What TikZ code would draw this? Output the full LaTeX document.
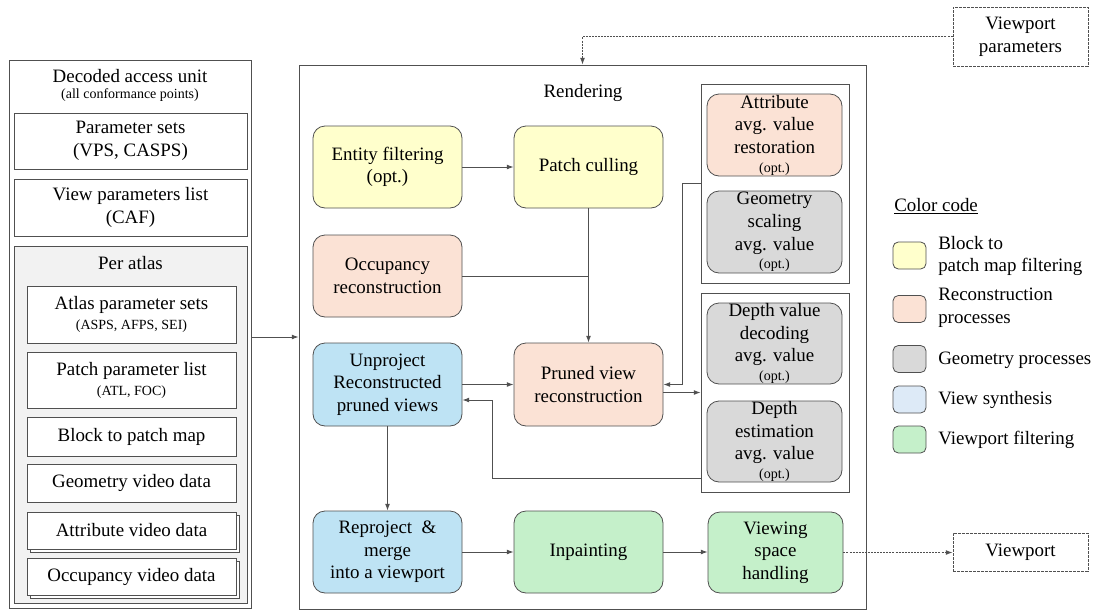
\documentclass[tikz,border=0pt]{standalone}
\usepackage{fontspec}
\setmainfont{Liberation Serif}
\usetikzlibrary{arrows.meta,shadows}

\definecolor{cyel}{HTML}{FFFFCC}
\definecolor{csal}{HTML}{FBE2D5}
\definecolor{cgry}{HTML}{D9D9D9}
\definecolor{cblu}{HTML}{BEE3F4}
\definecolor{cblulight}{HTML}{DDEAF7}
\definecolor{cgrn}{HTML}{C5F0CA}
\definecolor{cpanel}{HTML}{F2F2F2}
\definecolor{cline}{HTML}{505050}

\newcommand{\bigtxt}{\fontsize{14.2}{17}\selectfont}
\newcommand{\smalltxt}{\fontsize{10.5}{12}\selectfont}

\tikzset{
  sz/.style 2 args={minimum width=#1*0.75pt, minimum height=#2*0.75pt},
  plainbox/.style={draw=cline, line width=0.6pt, fill=white, inner sep=0pt, align=center, font=\bigtxt},
  proc/.style={draw=cline, line width=0.6pt, rounded corners=9pt, inner sep=0pt, align=center, font=\bigtxt},
  grp/.style={draw=cline, line width=0.6pt, inner sep=0pt},
  swatch/.style={draw=cline, line width=0.6pt, rounded corners=4pt, sz={33}{27}},
  legtxt/.style={anchor=west, align=left, inner sep=0pt, font=\bigtxt},
  conn/.style={draw=cline, line width=0.7pt},
  arr/.style={conn, -{Latex[length=5pt,width=3.6pt]}},
  dsh/.style={dash pattern=on 1.5pt off 0.8pt},
  fine dash/.style={dash pattern=on 2.5pt off 0.5pt},
  stack/.style={copy shadow={shadow xshift=2.25pt, shadow yshift=-2.25pt, draw=cline, fill=white}},
}

\begin{document}
\begin{tikzpicture}[x=0.75pt, y=-0.75pt]
\useasboundingbox (0,0) rectangle (1101,611);

% ---------- decoded access unit ----------
\node[plainbox, sz={242}{548}] (dau) at (130,334) {};
\node[font=\bigtxt, inner sep=0pt] (dautitle) at (130,76) {Decoded access unit};
\node[font=\smalltxt, inner sep=0pt] (dausub) at (130,95) {(all conformance points)};
\node[plainbox, sz={233}{56}] (ps) at (130.5,141) {Parameter sets\\(VPS, CASPS)};
\node[plainbox, sz={233}{57}] (vpl) at (130.5,207.5) {View parameters list\\(CAF)};
\node[plainbox, fill=cpanel, sz={233}{357}] (atlas) at (130.5,424.5) {};
\node[font=\bigtxt, inner sep=0pt] (atlastitle) at (130.5,263) {Per atlas};
\node[plainbox, sz={209}{57}] (aps) at (131.5,314.5) {Atlas parameter sets\\[-2pt]{\smalltxt (ASPS, AFPS, SEI)}};
\node[plainbox, sz={209}{56}] (ppl) at (131.5,380) {Patch parameter list\\[-2pt]{\smalltxt (ATL, FOC)}};
\node[plainbox, sz={209}{39}] (b2p) at (131.5,436.5) {Block to patch map};
\node[plainbox, sz={209}{38}] (gvd) at (131.5,483) {Geometry video data};
\node[plainbox, stack, sz={209}{37}] (avd) at (131.5,530.5) {Attribute video data};
\node[plainbox, stack, sz={209}{37}] (ovd) at (131.5,576.5) {Occupancy video data};

% ---------- rendering ----------
\node[plainbox, sz={567}{544}] (rend) at (582.5,337) {};
\node[font=\bigtxt, inner sep=0pt] (rendtitle) at (583,93) {Rendering};

\node[proc, fill=cyel, sz={149}{82}] (ent) at (387.5,167) {Entity filtering\\(opt.)};
\node[proc, fill=cyel, sz={149}{82}] (pc) at (588.5,167) {Patch culling};
\node[proc, fill=csal, sz={149}{82}] (occ) at (387.5,276) {Occupancy\\reconstruction};
\node[proc, fill=cblu, sz={149}{83}] (up) at (387.5,384.5) {Unproject\\Reconstructed\\pruned views};
\node[proc, fill=csal, sz={149}{83}] (pv) at (588.5,384.5) {Pruned view\\reconstruction};
\node[proc, fill=cblu, sz={149}{82}] (rp) at (387.5,552) {Reproject~~\&\\merge\\into a viewport};
\node[proc, fill=cgrn, sz={149}{82}] (inp) at (588.5,552) {Inpainting};
\node[proc, fill=cgrn, sz={135}{81}] (vs) at (775.5,552.5) {Viewing\\space\\handling};

\node[grp, sz={148}{199}] (g1) at (775,183.5) {};
\node[grp, sz={148}{199}] (g2) at (775,392.5) {};
\node[proc, fill=csal, sz={135}{82}] (avr) at (774.5,135) {Attribute\\avg. value\\restoration\\[-3pt]{\smalltxt (opt.)}};
\node[proc, fill=cgry, sz={135}{82}] (gsc) at (774.5,232) {Geometry\\scaling\\avg. value\\[-3pt]{\smalltxt (opt.)}};
\node[proc, fill=cgry, sz={135}{81}] (dvd) at (774.5,343.5) {Depth value\\decoding\\avg. value\\[-3pt]{\smalltxt (opt.)}};
\node[proc, fill=cgry, sz={135}{81}] (dest) at (774.5,441.5) {Depth\\estimation\\avg. value\\[-3pt]{\smalltxt (opt.)}};

% ---------- external inputs / outputs ----------
\node[plainbox, fine dash, sz={135}{59}] (vpp) at (1020.5,36.5) {Viewport\\parameters};
\node[plainbox, fine dash, sz={135}{38}] (vp) at (1020.5,552) {Viewport};

% ---------- legend ----------
\node[legtxt] (cctitle) at (894,206) {\underline{Color code}};
\node[swatch, fill=cyel] (sw1) at (909.5,255.5) {};
\node[swatch, fill=csal] (sw2) at (909.5,309) {};
\node[swatch, fill=cgry] (sw3) at (909.5,359) {};
\node[swatch, fill=cblulight] (sw4) at (909.5,399.5) {};
\node[swatch, fill=cgrn] (sw5) at (909.5,439.5) {};
\node[legtxt] (lg1) at (938,256) {Block to\\patch map filtering};
\node[legtxt] (lg2) at (938,308) {Reconstruction\\processes};
\node[legtxt] (lg3) at (938,360) {Geometry processes};
\node[legtxt] (lg4) at (938,400) {View synthesis};
\node[legtxt] (lg5) at (938,440) {Viewport filtering};

% ---------- connectors ----------
\coordinate (k1) at (682,183.5);
\coordinate (k2) at (492,478);
\coordinate (k3) at (492,400);

\draw[arr] (rend.west -| dau.east) -- (rend.west);
\draw[arr, dsh] (vpp.west) -| (rend.north);
\draw[arr] (ent.east) -- (pc.west);
\draw[conn] (occ.east) -- (occ.east -| pc.south);
\draw[arr] (pc.south) -- (pv.north);
\draw[arr] (up.east) -- (pv.west);
\draw[arr] (g1.west) -- (k1) |- (pv.east);
\draw[arr] (pv.east |- g2.west) -- (g2.west);
\draw[arr] (g2.west |- k2) -- (k2) -- (k3) -- (k3 -| up.east);
\draw[arr] (up.south) -- (rp.north);
\draw[arr] (rp.east) -- (inp.west);
\draw[arr] (inp.east) -- (inp.east -| vs.west);
\draw[arr, dsh] (vs.east) -- (vs.east -| vp.west);
\end{tikzpicture}
\end{document}
